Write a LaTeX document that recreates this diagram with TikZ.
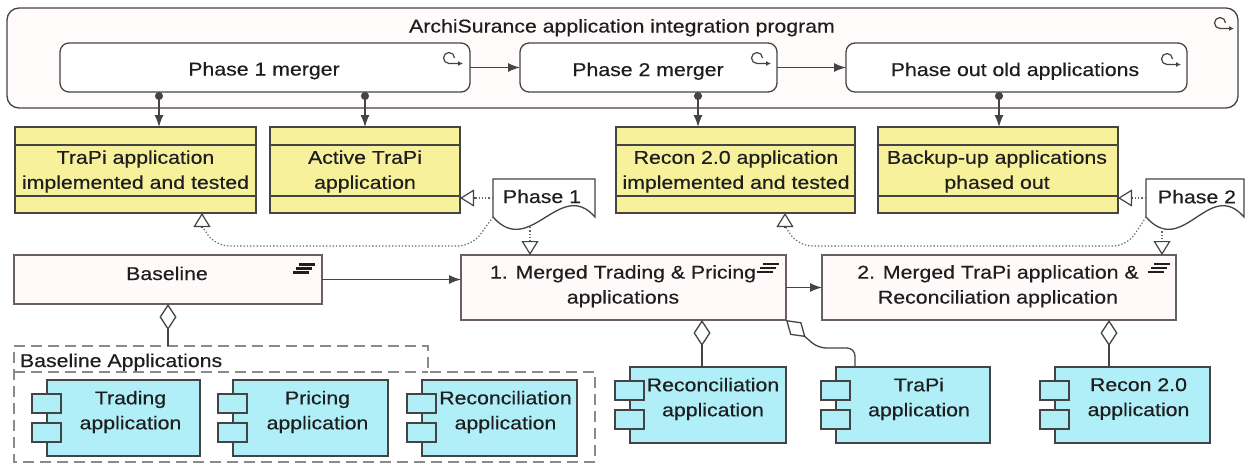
\documentclass[tikz,border=0pt]{standalone}
\usepackage{fontspec}
\setmainfont{Liberation Sans}[FakeStretch=1.15,FakeBold=0.4]
\usetikzlibrary{arrows.meta,calc}
\definecolor{ln}{HTML}{444444}
\definecolor{dotln}{HTML}{666666}
\definecolor{txt}{HTML}{1E1E1E}
\definecolor{yel}{HTML}{F8F19C}
\definecolor{cyn}{HTML}{B0EFF8}
\definecolor{platfill}{HTML}{FFF9F9}
\definecolor{platln}{HTML}{6A5E5E}
\definecolor{progfill}{HTML}{FFFBFB}
\definecolor{grpln}{HTML}{8A8A8A}
\tikzset{
  wpicon/.pic={\draw[ln, line width=1.2pt, -{Latex[length=5pt,width=5pt]}] (5.5,0) arc (0:-270:5.5) -- ++(14,0);},
  platicon/.pic={\draw[txt, line width=2.5pt] (-5,-4)--(11,-4) (-8,0)--(8,0) (-11,4)--(5,4);}
}
\begin{document}
\begin{tikzpicture}[x=1pt,y=-1pt,
  every node/.style={inner sep=0pt, outer sep=0pt},
  txtnode/.style={text=txt, align=center, font=\fontsize{18.5}{25}\selectfont},
  boxbase/.style={draw=ln, line width=1.3pt},
  wp/.style={boxbase, rounded corners=9pt, fill=white},
  deliv/.style={boxbase, fill=yel},
  plat/.style={boxbase, draw=platln, fill=platfill},
  comp/.style={boxbase, fill=cyn},
  comppart/.style={draw=ln, line width=1.3pt, fill=cyn},
  phaseshape/.style={boxbase, fill=white},
  flow/.style={draw=ln, line width=1.3pt, -{Latex[length=12pt,width=9pt]}},
  assign/.style={draw=ln, line width=1.3pt, {Circle[length=8pt]}-{Latex[length=12pt,width=9pt]}},
  real/.style={draw=dotln, line width=1.2pt, dash pattern=on 1.3pt off 2pt},
  realtip/.style={draw=ln, line width=1.2pt, solid, -{Triangle[open,length=14pt,width=17pt,fill=white]}},
  aggr/.style={draw=ln, line width=1.3pt, {Diamond[open,length=26pt,width=17pt,fill=white]}-},
  grpline/.style={draw=grpln, line width=1.5pt, dash pattern=on 11pt off 6pt},
]
\useasboundingbox (0,0) rectangle (1247,464);
\fill[white] (0,0) rectangle (1247,464);

% program and work packages
\node[wp, rounded corners=12pt, fill=progfill, minimum width=1231pt, minimum height=100pt] (prog) at (622.5,58) {};
\node[txtnode, anchor=base] (progt) at (622,32.5) {ArchiSurance application integration program};
\node[wp, minimum width=410pt, minimum height=49pt] (ph1) at (265,67.5) {};
\node[wp, minimum width=257pt, minimum height=49pt] (ph2) at (648.5,67.5) {};
\node[wp, minimum width=341pt, minimum height=49pt] (ph3) at (1016.5,67.5) {};
\node[txtnode, anchor=base] (ph1t) at (264,75.5) {Phase 1 merger};
\node[txtnode, anchor=base] (ph2t) at (648,76) {Phase 2 merger};
\node[txtnode, anchor=base] (ph3t) at (1015,76) {Phase out old applications};
\pic at ($(prog.north east)+(-18,15)$) {wpicon};
\pic at ($(ph1.north east)+(-21,15)$) {wpicon};
\pic at ($(ph2.north east)+(-20,15)$) {wpicon};
\pic at ($(ph3.north east)+(-20,16)$) {wpicon};

% deliverables
\node[deliv, minimum width=241pt, minimum height=86pt] (d1) at (135.5,170) {};
\node[deliv, minimum width=190pt, minimum height=86pt] (d2) at (365,170) {};
\node[deliv, minimum width=239pt, minimum height=86pt] (d3) at (735.5,170) {};
\node[deliv, minimum width=240pt, minimum height=86pt] (d4) at (998,170) {};
\foreach \d in {d1,d2,d3,d4}{
  \draw[ln, line width=1.2pt] ($(\d.north west)+(0,18)$) -- ($(\d.north east)+(0,18)$);
  \draw[ln, line width=1.2pt] ($(\d.south west)+(0,-17)$) -- ($(\d.south east)+(0,-17)$);
}
\node[txtnode] (d1t) at (135.5,171.5) {TraPi application\\implemented and tested};
\node[txtnode] (d2t) at (365,171.5) {Active TraPi\\application};
\node[txtnode] (d3t) at (736,171.5) {Recon 2.0 application\\implemented and tested};
\node[txtnode] (d4t) at (997,171.5) {Backup-up applications\\phased out};

% phases (wavy)
\node[minimum width=102pt, minimum height=38pt] (p1) at (544,198) {};
\node[minimum width=98pt, minimum height=38pt] (p2) at (1195,198) {};
\foreach \p in {p1,p2}{
  \draw[phaseshape] (\p.south west) -- (\p.north west) -- (\p.north east) -- (\p.south east)
    .. controls ($(\p.south east)+(-35,-40)$) and ($(\p.south west)+(37,42)$) .. (\p.south west) -- cycle;
}
\node[txtnode, anchor=base] (p1t) at (542,203) {Phase 1};
\node[txtnode, anchor=base] (p2t) at (1197,203.3) {Phase 2};

% plateaus
\node[plat, minimum width=308pt, minimum height=49pt] (base) at (168,279.5) {};
\node[plat, minimum width=325pt, minimum height=65pt] (m1) at (623.5,287.5) {};
\node[plat, minimum width=354pt, minimum height=65pt] (m2) at (999,287.5) {};
\node[txtnode, anchor=base] (baset) at (167,280) {Baseline};
\node[txtnode] (m1t) at (623,286.3) {1. Merged Trading \& Pricing\\applications};
\node[txtnode] (m2t) at (998,286.3) {2. Merged TraPi application \&\\Reconciliation application};
\pic at ($(base.north east)+(-18,13.5)$) {platicon};
\pic at ($(m1.north east)+(-18,13)$) {platicon};
\pic at ($(m2.north east)+(-17,13)$) {platicon};

% group
\node[minimum width=414pt, minimum height=26pt] (grp) at (221,359) {};
\draw[grpline] (14,346) -- (428,346) -- (428,372) -- (595,372) -- (595,462) -- (14,462) -- cycle;
\draw[grpline] (14,372) -- (428,372);
\node[txtnode, anchor=base west] (grpt) at (20,367) {Baseline Applications};

% components
\node[comp, minimum width=153pt, minimum height=76pt] (c1) at (123.5,418) {};
\node[comp, minimum width=155pt, minimum height=76pt] (c2) at (310.5,418) {};
\node[comp, minimum width=155pt, minimum height=76pt] (c3) at (499.5,418) {};
\node[comp, minimum width=156pt, minimum height=76pt] (c4) at (708,405) {};
\node[comp, minimum width=154pt, minimum height=76pt] (c5) at (913,405) {};
\node[comp, minimum width=155pt, minimum height=76pt] (c6) at (1132.5,405) {};
\foreach \c in {c1,c2,c3,c4,c5,c6}{
  \draw[comppart] ($(\c.north west)+(-15,14)$) rectangle ++(29,19);
  \draw[comppart] ($(\c.north west)+(-15,43)$) rectangle ++(29,19);
}
\node[txtnode] (c1t) at ($(c1.center)+(7,-6)$) {Trading\\application};
\node[txtnode] (c2t) at ($(c2.center)+(7,-6)$) {Pricing\\application};
\node[txtnode] (c3t) at ($(c3.center)+(6,-6)$) {Reconciliation\\application};
\node[txtnode] (c4t) at ($(c4.center)+(5,-6)$) {Reconciliation\\application};
\node[txtnode] (c5t) at ($(c5.center)+(6,-6)$) {TraPi\\application};
\node[txtnode] (c6t) at ($(c6.center)+(6,-6)$) {Recon 2.0\\application};

% connectors
\draw[flow] (ph1.east) -- (ph2.west);
\draw[flow] (ph2.east) -- (ph3.west);
\coordinate (xa1) at (159,0);
\coordinate (xa2) at (365,0);
\coordinate (xa3) at (698,0);
\coordinate (xa4) at (999,0);
\draw[assign] (ph1.south -| xa1) -- (d1.north -| xa1);
\draw[assign] (ph1.south -| xa2) -- (d2.north -| xa2);
\draw[assign] (ph2.south -| xa3) -- (d3.north -| xa3);
\draw[assign] (ph3.south -| xa4) -- (d4.north -| xa4);

\draw[flow] (base.east) -- (m1.west |- base.east);
\draw[flow] (m1.east) -- (m2.west);

% realization-style dotted links (solid hollow heads)
\coordinate (xr1) at (202,0);
\coordinate (xr3) at (785,0);
\coordinate (p1d) at ($(p1.south west)+(37,10)$);
\coordinate (p2d) at ($(p2.south west)+(16,11)$);
\coordinate (e1) at (d2.east |- p1.west);
\coordinate (e2) at (d4.east |- p2.west);
\coordinate (e3) at (d1.south -| xr1);
\coordinate (e4) at (d3.south -| xr3);
\coordinate (e5) at (m1.north -| p1d);
\coordinate (e6) at (m2.north -| p2d);
\draw[real] (p1.west) -- ($(e1)+(13,0)$);
\draw[realtip] ($(e1)+(14,0)$) -- (e1);
\draw[real] (p2.west) -- ($(e2)+(13,0)$);
\draw[realtip] ($(e2)+(14,0)$) -- (e2);
\draw[real, rounded corners=14pt] (p1.south west) -- (472,246) -- (215,246) -- ($(e3)+(0,13)$);
\draw[realtip] ($(e3)+(0,14)$) -- (e3);
\draw[real, rounded corners=14pt] (p2.south west) -- (1127,246) -- (798,246) -- ($(e4)+(0,13)$);
\draw[realtip] ($(e4)+(0,14)$) -- (e4);
\draw[real] (p1d) -- ($(e5)+(0,-13)$);
\draw[realtip] ($(e5)+(0,-14)$) -- (e5);
\draw[real] (p2d) -- ($(e6)+(0,-13)$);
\draw[realtip] ($(e6)+(0,-14)$) -- (e6);

% aggregations
\coordinate (xg4) at (702,0);
\coordinate (xg5) at (855,0);
\coordinate (xg6) at (1109,0);
\draw[aggr] (base.south) -- (grp.north -| base.south);
\draw[aggr] (m1.south -| xg4) -- (c4.north -| xg4);
\draw[aggr] (m2.south -| xg6) -- (c6.north -| xg6);
\draw[aggr, rounded corners=8pt] (m1.south east) -- (818,348) -- (855,348) -- (c5.north -| xg5);
\end{tikzpicture}
\end{document}
